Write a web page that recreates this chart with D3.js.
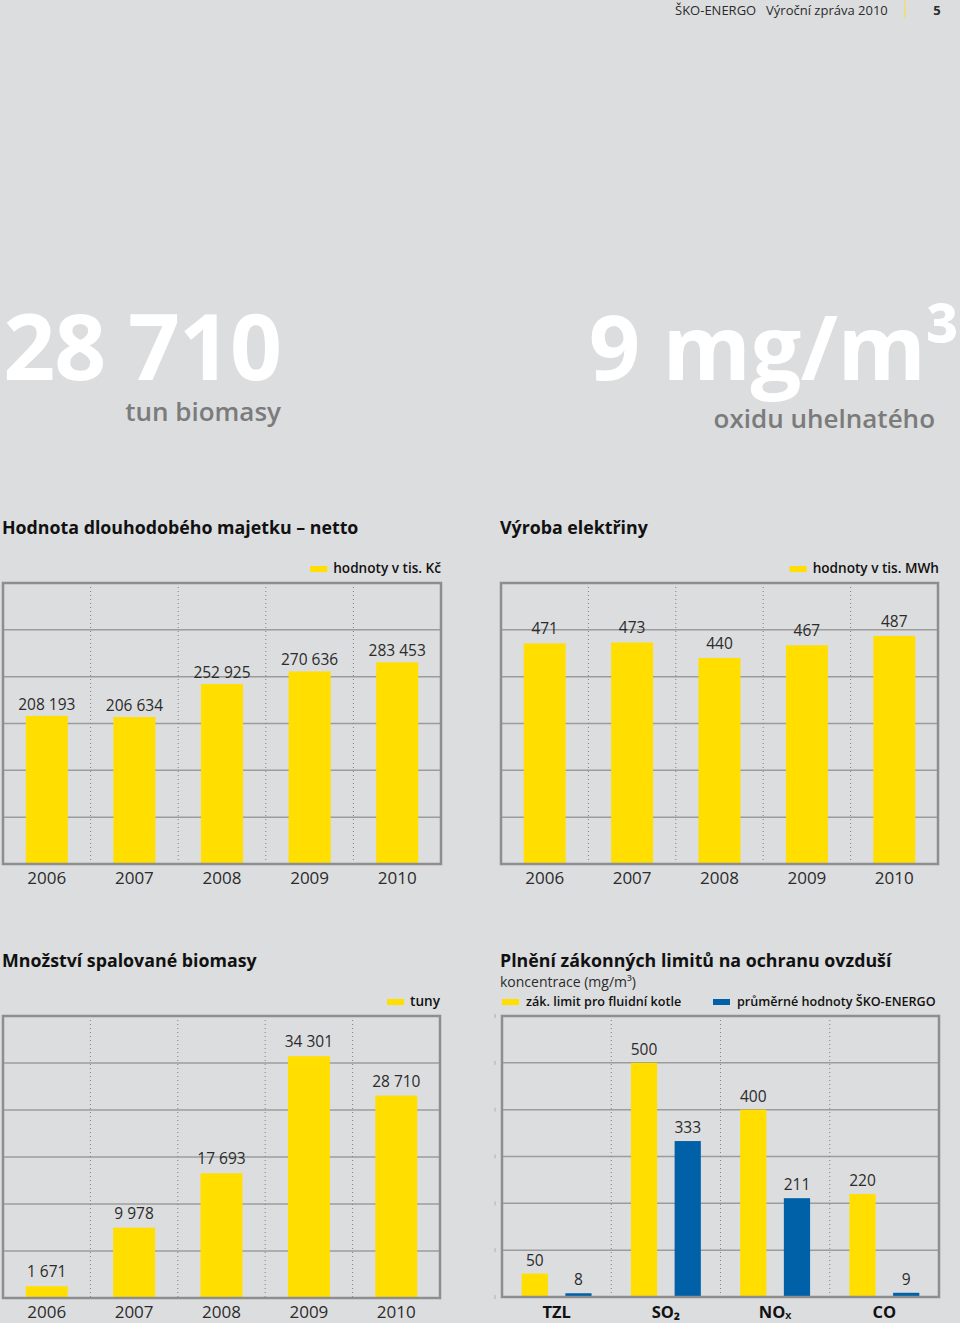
<!DOCTYPE html>
<html>
<head>
<meta charset="utf-8">
<script src="https://cdn.jsdelivr.net/npm/d3@7"></script>
<style>
html,body{margin:0;padding:0;background:#dcdddf;}
svg{display:block;}
text{font-family:"Open Sans",sans-serif;}
</style>
</head>
<body>
<svg id="chart" width="960" height="1323"></svg>
<script>
// ---------- data ----------
const years = ["2006", "2007", "2008", "2009", "2010"];
const assetValues = [208193, 206634, 252925, 270636, 283453];        // tis. Kč
const electricityValues = [471, 473, 440, 467, 487];                 // tis. MWh
const biomassValues = [1671, 9978, 17693, 34301, 28710];             // tuny
const pollutants = ["TZL", "SO₂", "NOₓ", "CO"];
const legalLimits = [50, 500, 400, 220];                             // mg/m3
const averageValues = [8, 333, 211, 9];                              // mg/m3
const seriesNames = ["zák. limit pro fluidní kotle", "průměrné hodnoty ŠKO-ENERGO"];

// ---------- style ----------
const BG = "#dcdddf", YELLOW = "#ffde00", BLUE = "#0061a8";
const FRAME = "#8e8e8e", GRID = "#9c9c9c", TXT = "#2b2b2b";
const fmt = d3.formatLocale({decimal: ",", thousands: "\u00a0", grouping: [3], currency: ["", ""]}).format(",d");

const svg = d3.select("#chart");
svg.append("rect").attr("width", 960).attr("height", 1323).attr("fill", BG);

// header
svg.append("text").attr("x", 675).attr("y", 15).attr("font-size", 13).attr("fill", TXT)
  .text("ŠKO-ENERGO\u2002 Výroční zpráva 2010");
svg.append("line").attr("x1", 905).attr("x2", 905).attr("y1", 1).attr("y2", 18)
  .attr("stroke", "#f2dc6a").attr("stroke-width", 1.5);
svg.append("text").attr("x", 937).attr("y", 15).attr("font-size", 13).attr("font-weight", 700)
  .attr("text-anchor", "middle").attr("fill", TXT).text("5");

// big figures
svg.append("text").attr("x", 281).attr("y", 380).attr("text-anchor", "end")
  .attr("font-size", 91).attr("font-weight", 700).attr("fill", "#ffffff")
  .attr("letter-spacing", -1).text("28 710");
svg.append("text").attr("x", 281).attr("y", 421).attr("text-anchor", "end")
  .attr("font-size", 26).attr("font-weight", 600).attr("fill", "#7b7b7b").text("tun biomasy");
svg.append("text").attr("x", 959).attr("y", 380).attr("text-anchor", "end")
  .attr("font-size", 90).attr("font-weight", 700).attr("fill", "#ffffff")
  .attr("letter-spacing", -0.5).text("9 mg/m³");
svg.append("text").attr("x", 935).attr("y", 428).attr("text-anchor", "end")
  .attr("font-size", 26).attr("font-weight", 600).attr("fill", "#7b7b7b").text("oxidu uhelnatého");

function title(x, y, t) {
  svg.append("text").attr("x", x).attr("y", y).attr("font-size", 17.8).attr("font-weight", 700)
    .attr("fill", "#111").text(t);
}
function legendItem(x, y, color, label, anchorEnd, size) {
  const g = svg.append("g");
  const t = g.append("text").attr("y", y).attr("font-size", size).attr("font-weight", 600)
    .attr("fill", "#111").text(label);
  if (anchorEnd) {
    t.attr("x", x).attr("text-anchor", "end");
    const w = t.node().getComputedTextLength();
    g.append("rect").attr("x", x - w - 23).attr("y", y - 7).attr("width", 17).attr("height", 6).attr("fill", color);
  } else {
    g.append("rect").attr("x", x).attr("y", y - 7).attr("width", 17).attr("height", 6).attr("fill", color);
    t.attr("x", x + 24);
  }
}

// generic frame with grid
function frame(x0, x1, y0, y1, yScale, nGrid, xScale, cats) {
  const g = svg.append("g");
  const gridVals = d3.range(1, nGrid).map(i => yScale.domain()[1] * i / nGrid);
  g.selectAll(".h").data(gridVals).join("line")
    .attr("x1", x0).attr("x2", x1).attr("y1", d => yScale(d)).attr("y2", d => yScale(d))
    .attr("stroke", GRID).attr("stroke-width", 1.5);
  g.selectAll(".v").data(cats.slice(1)).join("line")
    .attr("x1", d => xScale(d) - xScale.step() * xScale.paddingInner() / 2)
    .attr("x2", d => xScale(d) - xScale.step() * xScale.paddingInner() / 2)
    .attr("y1", y0).attr("y2", y1)
    .attr("stroke", "#808080").attr("stroke-width", 1).attr("stroke-dasharray", "1,3");
  return g;
}
function outline(x0, x1, y0, y1) {
  svg.append("rect").attr("x", x0).attr("y", y0).attr("width", x1 - x0).attr("height", y1 - y0)
    .attr("fill", "none").attr("stroke", FRAME).attr("stroke-width", 2.5);
}

function yearChart(opts) {
  const {x0, x1, y0, y1, max, values, gap} = opts;
  const x = d3.scaleBand().domain(years).range([x0, x1]).paddingInner(0.52).paddingOuter(0.26);
  const y = d3.scaleLinear().domain([0, max]).range([y1, y0]);
  frame(x0, x1, y0, y1, y, 6, x, years);
  const data = years.map((k, i) => ({k, v: values[i]}));
  svg.append("g").selectAll("rect").data(data).join("rect")
    .attr("x", d => x(d.k)).attr("width", x.bandwidth())
    .attr("y", d => y(d.v)).attr("height", d => y(0) - y(d.v)).attr("fill", YELLOW);
  svg.append("g").selectAll("text").data(data).join("text")
    .attr("x", d => x(d.k) + x.bandwidth() / 2).attr("y", d => y(d.v) - gap)
    .attr("text-anchor", "middle").attr("font-size", 15.5).attr("fill", TXT)
    .text(d => fmt(d.v));
  outline(x0, x1, y0, y1);
  const ax = svg.append("g").attr("transform", `translate(0,${y1})`)
    .call(d3.axisBottom(x).tickSize(0).tickPadding(0));
  ax.select(".domain").remove();
  ax.selectAll("text").attr("y", opts.labelDy).attr("dy", 0).attr("font-size", 17)
    .attr("font-family", "Open Sans").attr("fill", TXT);
}

// Chart 1
title(2, 534, "Hodnota dlouhodobého majetku – netto");
legendItem(441, 573, YELLOW, "hodnoty v tis. Kč", true, 13.6);
yearChart({x0: 3, x1: 441, y0: 583, y1: 864, max: 395000, values: assetValues, labelDy: 20, gap: 6});

// Chart 2
title(500, 534, "Výroba elektřiny");
legendItem(939, 573, YELLOW, "hodnoty v tis. MWh", true, 13.6);
yearChart({x0: 501, x1: 938, y0: 583, y1: 864, max: 600, values: electricityValues, labelDy: 20, gap: 9});

// Chart 3
title(2, 967, "Množství spalované biomasy");
legendItem(440, 1006, YELLOW, "tuny", true, 13.6);
yearChart({x0: 3, x1: 440, y0: 1016, y1: 1298, max: 40000, values: biomassValues, labelDy: 20, gap: 9});

// Chart 4
title(500, 967, "Plnění zákonných limitů na ochranu ovzduší");
svg.append("text").attr("x", 500).attr("y", 987).attr("font-size", 14).attr("fill", TXT).text("koncentrace (mg/m³)");
legendItem(502, 1006, YELLOW, seriesNames[0], false, 12.6);
legendItem(713, 1006, BLUE, seriesNames[1], false, 12.6);
(function () {
  const x0 = 502, x1 = 939, y0 = 1016, y1 = 1297;
  const x = d3.scaleBand().domain(pollutants).range([x0, x1]).paddingInner(0).paddingOuter(0);
  const y = d3.scaleLinear().domain([0, 600]).range([y1, y0]);
  frame(x0, x1, y0, y1, y, 6, x, pollutants);
  // small ticks on the left
  svg.append("g").selectAll("line").data(d3.range(0, 7).map(i => 600 * i / 6)).join("line")
    .attr("x1", 495).attr("x2", 495).attr("y1", d => y(d) - 2).attr("y2", d => y(d) + 2)
    .attr("stroke", "#b0b0b0").attr("stroke-width", 1);
  const inner = d3.scaleBand().domain(["lim", "avg"]).range([0, x.bandwidth()]).paddingInner(0.4).paddingOuter(0.45);
  const data = [];
  pollutants.forEach((p, i) => {
    data.push({p, s: "lim", v: legalLimits[i], c: YELLOW});
    data.push({p, s: "avg", v: averageValues[i], c: BLUE});
  });
  svg.append("g").selectAll("rect").data(data).join("rect")
    .attr("x", d => x(d.p) + inner(d.s)).attr("width", inner.bandwidth())
    .attr("y", d => y(d.v)).attr("height", d => y(0) - y(d.v)).attr("fill", d => d.c);
  svg.append("g").selectAll("text").data(data).join("text")
    .attr("x", d => x(d.p) + inner(d.s) + inner.bandwidth() / 2).attr("y", d => y(d.v) - 8)
    .attr("text-anchor", "middle").attr("font-size", 15.5).attr("fill", TXT)
    .text(d => fmt(d.v));
  outline(x0, x1, y0, y1);
  const ax = svg.append("g").attr("transform", `translate(0,${y1})`)
    .call(d3.axisBottom(x).tickSize(0).tickPadding(0));
  ax.select(".domain").remove();
  ax.selectAll("text").attr("y", 21).attr("dy", 0).attr("font-size", 16.5).attr("font-weight", 700)
    .attr("font-family", "Open Sans").attr("fill", "#111");
})();
</script>
</body>
</html>
